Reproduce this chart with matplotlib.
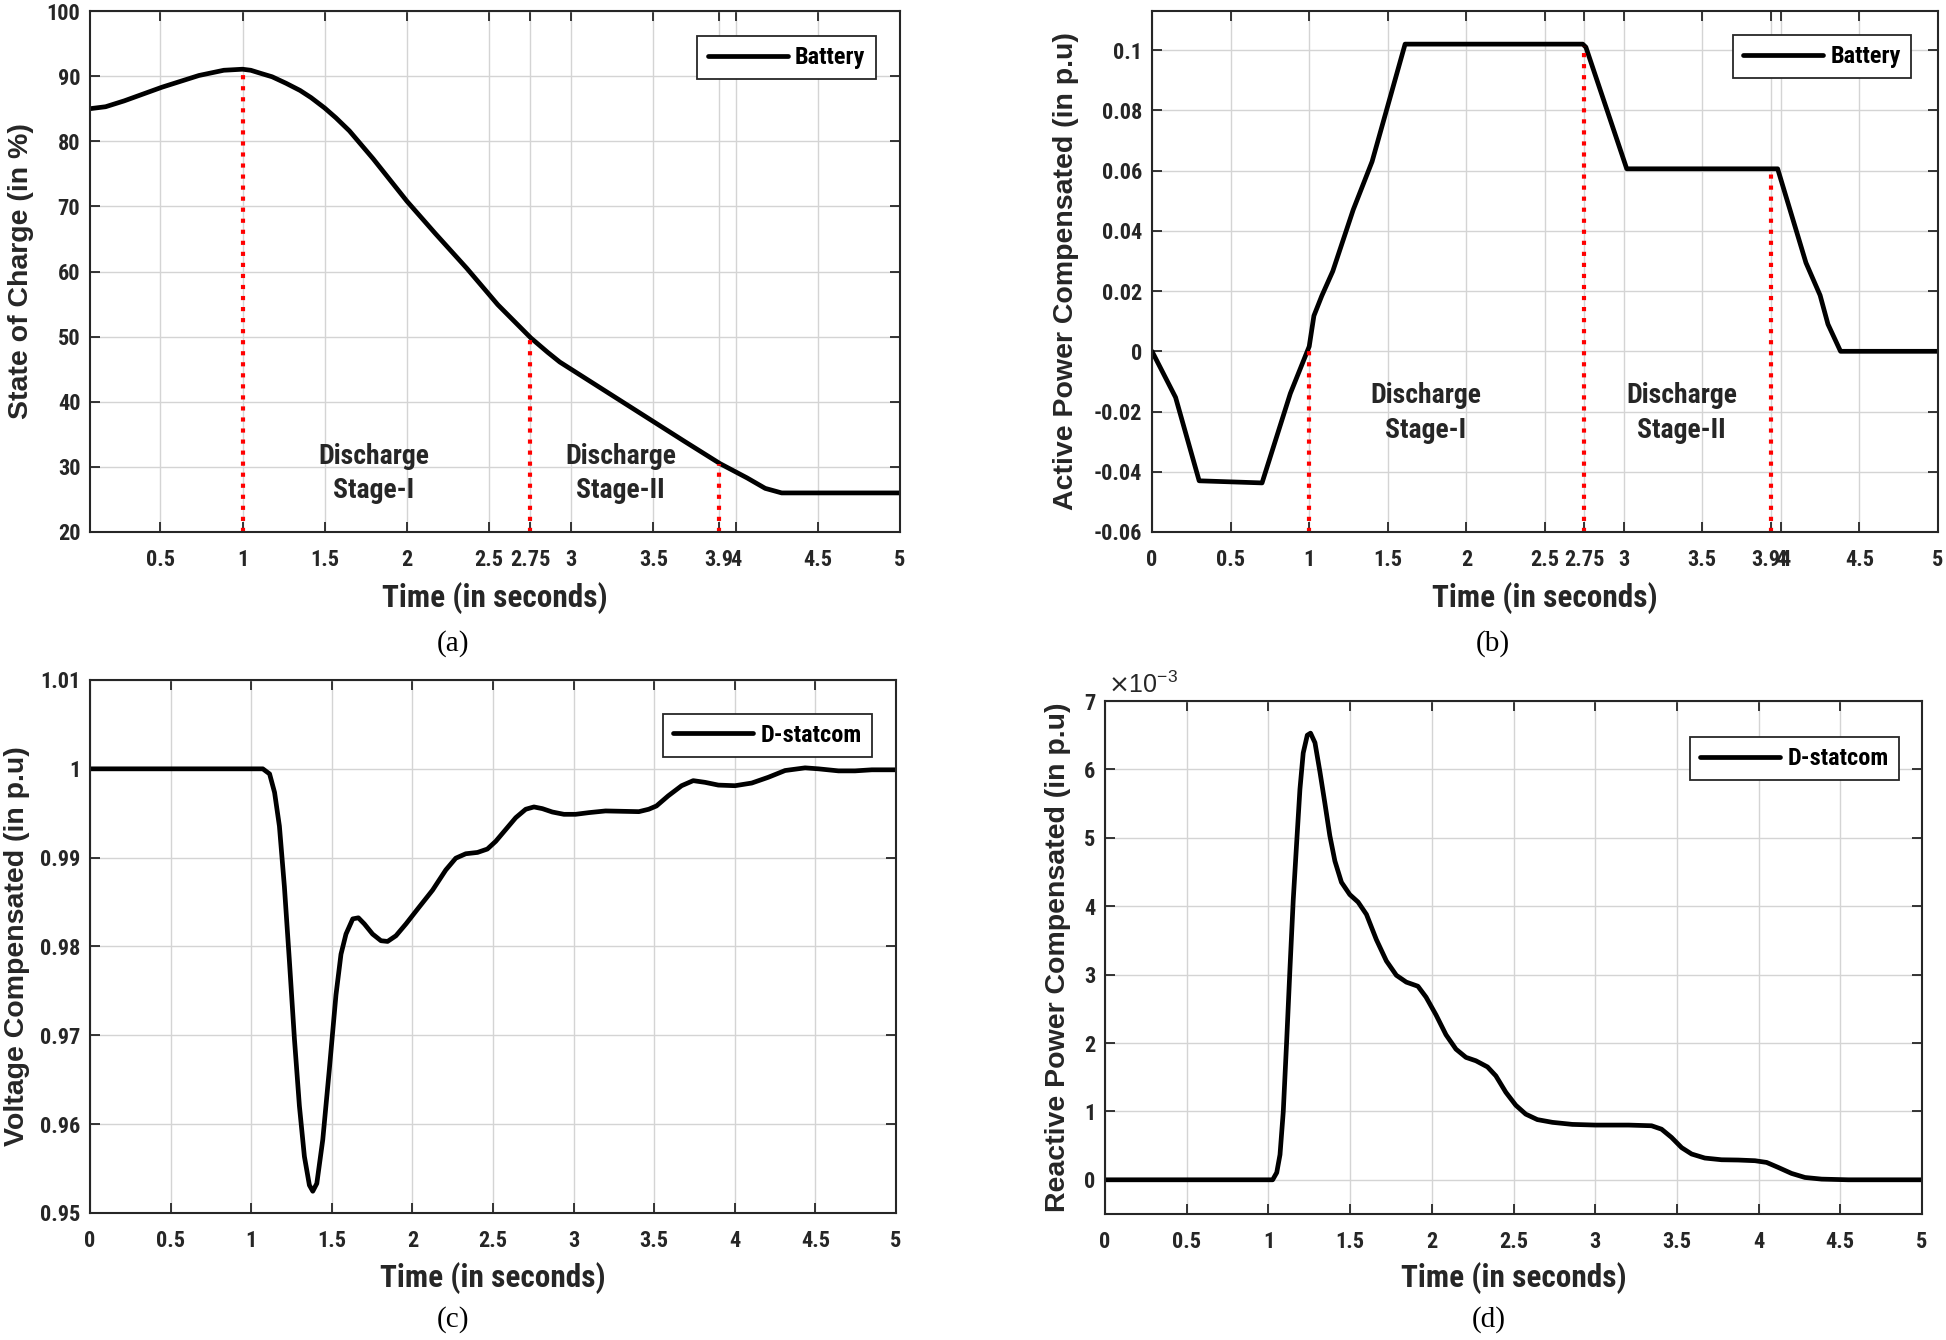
import numpy as np
import matplotlib
matplotlib.use('Agg')
import matplotlib.pyplot as plt
from matplotlib.ticker import FuncFormatter

# (a) state of charge
soc_t = [0.072, 0.167, 0.28, 0.51, 0.735, 0.886, 1.0, 1.05, 1.114, 1.18, 1.265, 1.35,
         1.417, 1.5, 1.568, 1.65, 1.795, 2.0, 2.174, 2.364, 2.553, 2.754, 2.856, 2.93,
         3.12, 3.31, 3.5, 3.69, 3.905, 4.07, 4.18, 4.28, 5.0]
soc_v = [85.0, 85.3, 86.2, 88.3, 90.1, 90.9, 91.06, 90.9, 90.4, 89.9, 88.9, 87.8,
         86.7, 85.1, 83.6, 81.6, 77.3, 70.8, 65.8, 60.5, 54.9, 49.8, 47.6, 46.1,
         43.05, 40.0, 36.95, 33.9, 30.5, 28.3, 26.7, 26.0, 26.0]
soc_marks = [1.0, 2.75, 3.9]
soc_mark_v = [91.06, 49.8, 30.5]
soc_xticks = [0.5, 1, 1.5, 2, 2.5, 2.75, 3, 3.5, 3.9, 4, 4.5, 5]

# (b) active power
p_t = [0, 0.15, 0.30, 0.70, 0.88, 1.0, 1.03, 1.08, 1.15, 1.28, 1.40, 1.61, 2.74, 2.76,
       3.02, 3.98, 4.16, 4.25, 4.30, 4.38, 5.0]
p_v = [0, -0.0153, -0.043, -0.0437, -0.014, 0.0016, 0.0118, 0.0184, 0.0266, 0.047,
       0.063, 0.102, 0.102, 0.101, 0.0606, 0.0606, 0.0294, 0.0186, 0.009, 0.0, 0.0]
p_marks = [1.0, 2.75, 3.94]
p_mark_v = [0.0, 0.1015, 0.06]
p_xticks = [0, 0.5, 1, 1.5, 2, 2.5, 2.75, 3, 3.5, 3.94, 4, 4.5, 5]

# (c) voltage
v_t = [0, 1.072, 1.114, 1.145, 1.175, 1.206, 1.237, 1.268, 1.299, 1.33, 1.361, 1.382,
       1.407, 1.444, 1.485, 1.526, 1.557, 1.588, 1.63, 1.665, 1.702, 1.753, 1.805,
       1.846, 1.898, 1.96, 2.042, 2.125, 2.207, 2.269, 2.331, 2.404, 2.465, 2.517,
       2.579, 2.641, 2.703, 2.754, 2.806, 2.868, 2.94, 3.012, 3.095, 3.198, 3.301,
       3.405, 3.466, 3.514, 3.587, 3.67, 3.742, 3.815, 3.898, 4.001, 4.105, 4.208,
       4.312, 4.436, 4.519, 4.643, 4.746, 4.85, 5.0]
v_v = [1.0, 1.0, 0.99943, 0.99734, 0.99355, 0.98672, 0.97837, 0.96964, 0.96205,
       0.95636, 0.95313, 0.95245, 0.95332, 0.95825, 0.96622, 0.97457, 0.97913,
       0.9814, 0.98311, 0.98323, 0.98254, 0.9814, 0.98065, 0.98057, 0.98121,
       0.98254, 0.98444, 0.98634, 0.98861, 0.98994, 0.99044, 0.99059, 0.99097,
       0.99184, 0.99317, 0.9945, 0.99545, 0.99571, 0.99552, 0.99514, 0.99488,
       0.99488, 0.99507, 0.99526, 0.99522, 0.99518, 0.99545, 0.99582, 0.99696,
       0.9981, 0.99867, 0.99848, 0.99817, 0.9981, 0.9984, 0.99905, 0.99981,
       1.00011, 1.0, 0.99977, 0.99977, 0.99989, 0.99989]

# (d) reactive power (x1e-3)
q_t = [0, 1.026, 1.051, 1.071, 1.091, 1.112, 1.132, 1.152, 1.173, 1.193, 1.213, 1.238,
       1.258, 1.285, 1.315, 1.346, 1.376, 1.407, 1.447, 1.498, 1.549, 1.6, 1.661,
       1.722, 1.783, 1.844, 1.915, 1.965, 2.026, 2.087, 2.148, 2.209, 2.27, 2.341,
       2.392, 2.453, 2.514, 2.575, 2.646, 2.738, 2.86, 3.002, 3.205, 3.345, 3.406,
       3.467, 3.529, 3.59, 3.671, 3.773, 3.876, 3.978, 4.049, 4.12, 4.202, 4.284,
       4.386, 4.549, 5.0]
q_v = [0, 0, 0.105, 0.367, 0.996, 2.04, 3.09, 4.09, 4.93, 5.71, 6.24, 6.50, 6.53,
       6.39, 5.97, 5.50, 5.03, 4.66, 4.35, 4.17, 4.06, 3.88, 3.51, 3.20, 2.99, 2.89,
       2.83, 2.67, 2.41, 2.12, 1.91, 1.79, 1.74, 1.65, 1.52, 1.28, 1.09, 0.96, 0.88,
       0.84, 0.81, 0.80, 0.80, 0.79, 0.74, 0.62, 0.47, 0.377, 0.318, 0.293, 0.289,
       0.279, 0.254, 0.181, 0.093, 0.034, 0.01, 0.0, 0.0]

NARROW = ['Roboto Condensed', 'Archivo Narrow', 'PT Sans Narrow', 'Liberation Sans', 'DejaVu Sans']
WIDE = ['Liberation Sans', 'DejaVu Sans']
SERIF = ['Liberation Serif', 'DejaVu Serif']
INK = '#262626'

W, H = 1946, 1340
fig = plt.figure(figsize=(W / 100, H / 100), dpi=100)


def frac(l, t, r, b):
    return [l / W, 1 - b / H, (r - l) / W, (b - t) / H]


def style(ax, xlabel, ylabel, ylab_x, xlab_y):
    ax.grid(True, color='#d4d4d4', lw=1.0)
    ax.set_axisbelow(True)
    ax.tick_params(direction='in', top=True, right=True, length=7, width=1.3,
                   labelsize=16, colors=INK)
    ax.tick_params(axis='x', pad=12)
    ax.tick_params(axis='y', pad=7)
    for s in ax.spines.values():
        s.set_linewidth(1.5)
        s.set_color(INK)
    for lab in ax.get_xticklabels() + ax.get_yticklabels():
        lab.set_family(NARROW)
        lab.set_fontweight('bold')
    ax.set_xlabel(xlabel, fontsize=22.5, fontweight='bold', family=NARROW, color=INK)
    ax.set_ylabel(ylabel, fontsize=20.5, fontweight='bold', family=WIDE, color=INK)
    ax.xaxis.set_label_coords(0.5, xlab_y)
    ax.xaxis.label.set_va('center')
    ax.yaxis.set_label_coords(ylab_x, 0.5)
    ax.yaxis.label.set_va('center')


def legend(ax, name, anchor):
    lg = ax.legend([name], loc='upper right', bbox_to_anchor=anchor, borderaxespad=0,
                   fancybox=False, framealpha=1, edgecolor=INK, handlelength=3.3,
                   prop={'family': NARROW, 'weight': 'bold', 'size': 17.5},
                   borderpad=0.42, handletextpad=0.3)
    lg.get_frame().set_linewidth(1.3)


def stage_text(ax, x, y, s):
    ax.text(x, y, s, ha='center', va='center', fontsize=20, fontweight='bold',
            family=NARROW, linespacing=1.35, color=INK)


gfmt = FuncFormatter(lambda v, p: '%g' % round(v, 4) if abs(v) > 1e-12 else '0')

# (a)
ax = fig.add_axes(frac(90, 11, 900, 532))
ax.plot(soc_t, soc_v, color='black', lw=3.4, solid_capstyle='round')
for xm, ym in zip(soc_marks, soc_mark_v):
    ax.plot([xm, xm], [20, ym], color='red', ls=':', lw=3.0)
ax.set_xlim(0.072, 5)
ax.set_ylim(20, 100)
ax.set_xticks(soc_xticks)
ax.set_yticks(np.arange(20, 101, 10))
ax.xaxis.set_major_formatter(gfmt)
stage_text(ax, 1.8, 29, 'Discharge\nStage-I')
stage_text(ax, 3.3, 29, 'Discharge\nStage-II')
legend(ax, 'Battery', (0.970, 0.952))
style(ax, 'Time (in seconds)', 'State of Charge (in %)', -0.085, -0.127)

# (b)
ax = fig.add_axes(frac(1152, 11, 1938, 532))
ax.plot(p_t, p_v, color='black', lw=3.4, solid_capstyle='round')
for xm, ym in zip(p_marks, p_mark_v):
    ax.plot([xm, xm], [-0.06, ym], color='red', ls=':', lw=3.0)
ax.set_xlim(0, 5)
ax.set_ylim(-0.06, 0.113)
ax.set_xticks(p_xticks)
ax.set_yticks(np.arange(-0.06, 0.101, 0.02))
ax.xaxis.set_major_formatter(gfmt)
ax.yaxis.set_major_formatter(gfmt)
stage_text(ax, 1.74, -0.0205, 'Discharge\nStage-I')
stage_text(ax, 3.37, -0.0205, 'Discharge\nStage-II')
legend(ax, 'Battery', (0.966, 0.954))
style(ax, 'Time (in seconds)', 'Active Power Compensated (in p.u)', -0.11, -0.127)

# (c)
ax = fig.add_axes(frac(90, 680, 896, 1213))
ax.plot(v_t, v_v, color='black', lw=3.4, solid_capstyle='round')
ax.set_xlim(0, 5)
ax.set_ylim(0.95, 1.01)
ax.set_xticks(np.arange(0, 5.01, 0.5))
ax.set_yticks(np.arange(0.95, 1.011, 0.01))
ax.xaxis.set_major_formatter(gfmt)
ax.yaxis.set_major_formatter(gfmt)
legend(ax, 'D-statcom', (0.970, 0.937))
style(ax, 'Time (in seconds)', 'Voltage Compensated (in p.u)', -0.091, -0.122)

# (d)
ax = fig.add_axes(frac(1105, 701, 1922, 1214))
ax.plot(q_t, np.array(q_v) * 1e-3, color='black', lw=3.4, solid_capstyle='round')
ax.set_xlim(0, 5)
ax.set_ylim(-0.5e-3, 7e-3)
ax.set_xticks(np.arange(0, 5.01, 0.5))
ax.set_yticks(np.arange(0, 7.01e-3, 1e-3))
ax.xaxis.set_major_formatter(gfmt)
ax.yaxis.set_major_formatter(FuncFormatter(lambda v, p: '%g' % round(v * 1e3, 3)))
legend(ax, 'D-statcom', (0.972, 0.93))
style(ax, 'Time (in seconds)', 'Reactive Power Compensated (in p.u)', -0.058, -0.125)
ax.text(0.004, 1.006, r'$\times$10$^{\mathregular{-3}}$', transform=ax.transAxes,
        ha='left', va='bottom', fontsize=18, family=WIDE, color=INK)

# captions
for x, y, s in [(453, 644, '(a)'), (1493, 644, '(b)'), (453, 1320, '(c)'), (1489, 1320, '(d)')]:
    fig.text(x / W, 1 - y / H, s, ha='center', va='center', fontsize=21, family=SERIF)

fig.savefig('out.png', dpi=100)
